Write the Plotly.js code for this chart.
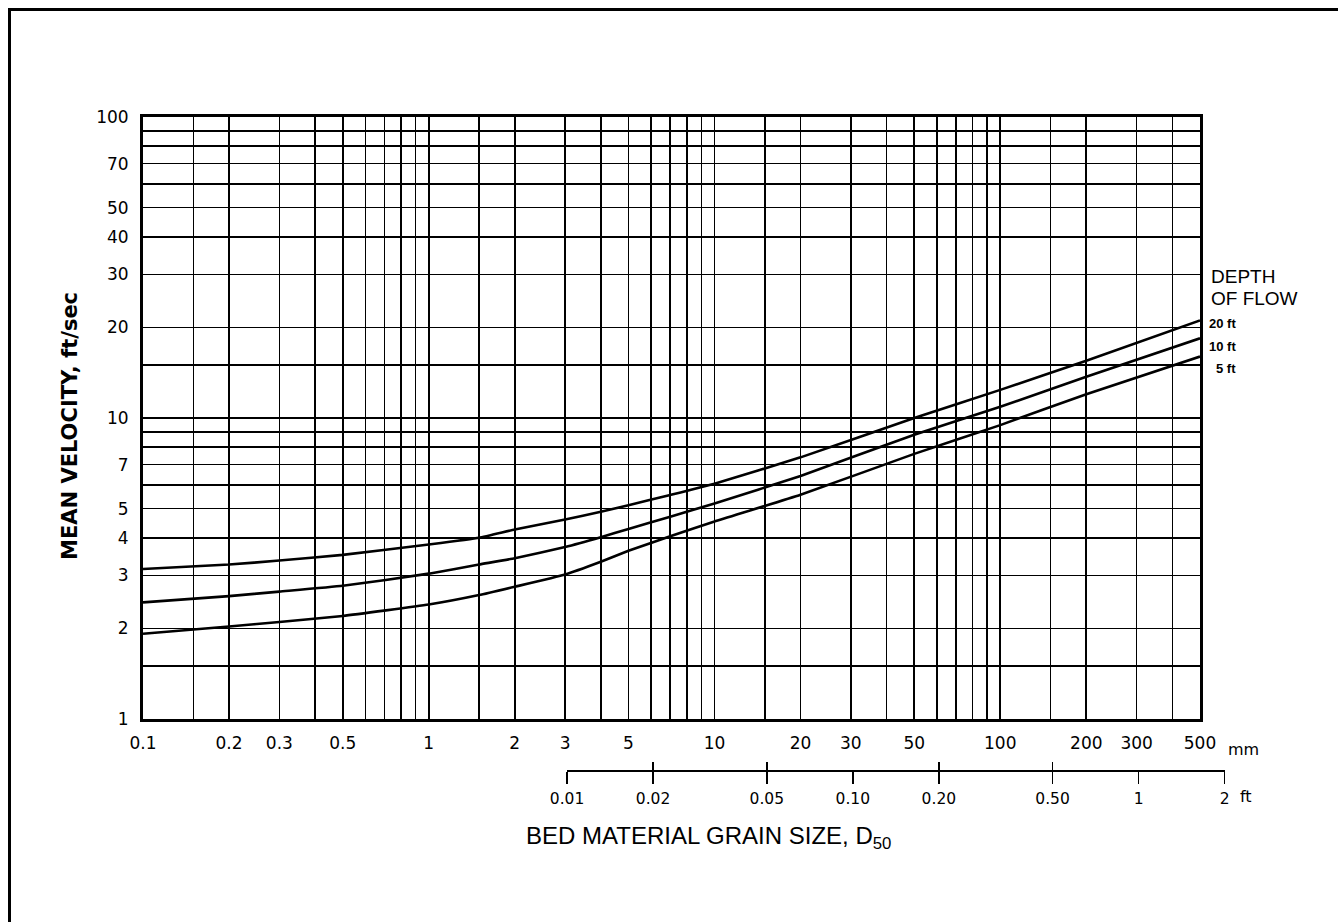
<!DOCTYPE html>
<html>
<head>
<meta charset="utf-8">
<script src="https://cdn.plot.ly/plotly-3.0.1.min.js"></script>
<style>
  html, body { margin: 0; padding: 0; background: #ffffff; }
  #chart { width: 1338px; height: 922px; }
</style>
</head>
<body>
<div id="chart"></div>
<script>
// Median bed material grain size D50 (mm) at which each velocity curve is tabulated
const grainSizeMm = [0.1, 0.2, 0.3, 0.5, 1, 1.5, 2, 3, 4, 5, 7, 10, 20, 50, 100, 200, 500];

// Mean velocity (ft/sec) for each depth of flow
const velocity20ft = [3.15, 3.26, 3.36, 3.51, 3.80, 4.00, 4.26, 4.60, 4.88, 5.13, 5.55, 6.05, 7.40, 10.0, 12.4, 15.5, 21.1];
const velocity10ft = [2.44, 2.56, 2.65, 2.77, 3.04, 3.26, 3.42, 3.73, 4.02, 4.28, 4.70, 5.20, 6.42, 8.80, 10.9, 13.7, 18.4];
const velocity5ft  = [1.92, 2.03, 2.10, 2.20, 2.40, 2.58, 2.75, 3.02, 3.33, 3.62, 4.05, 4.53, 5.56, 7.60, 9.47, 12.0, 16.0];

const depthNames = ['20 ft', '10 ft', '5 ft'];

// Labelled ticks
const mmTickLabels = [0.1, 0.2, 0.3, 0.5, 1, 2, 3, 5, 10, 20, 30, 50, 100, 200, 300, 500];
const velTickLabels = [1, 2, 3, 4, 5, 7, 10, 20, 30, 40, 50, 70, 100];
const ftTickValues = [0.01, 0.02, 0.05, 0.1, 0.2, 0.5, 1, 2];
const ftTickText = ['0.01', '0.02', '0.05', '0.10', '0.20', '0.50', '1', '2'];
const ftCrossTicks = [0.01, 0.02, 0.05, 0.2, 0.5];

// Log-paper rulings within each decade
const gridMantissas = [1, 1.5, 2, 3, 4, 5, 6, 7, 8, 9];
const MM_PER_FT = 304.8;

// ---------- helpers ----------
function logGrid(lo, hi) {
  const vals = [];
  for (let e = Math.floor(Math.log10(lo)); e <= Math.ceil(Math.log10(hi)); e++) {
    gridMantissas.forEach(m => {
      const v = +(m * Math.pow(10, e)).toPrecision(6);
      if (v >= lo * 0.999 && v <= hi * 1.001) vals.push(v);
    });
  }
  return vals;
}
const near = (a, b) => Math.abs(a - b) < 1e-9 * Math.max(1, b);
const mmMinor = logGrid(0.1, 500).filter(v => !mmTickLabels.some(t => near(t, v)));
const velMinor = logGrid(1, 100).filter(v => !velTickLabels.some(t => near(t, v)));

// ---------- page geometry ----------
const W = 1338, H = 922;
const M = { l: 143, r: 113, t: 117, b: 142 };
const PW = W - M.l - M.r, PH = H - M.t - M.b;
const fx = px => (px - M.l) / PW;
const fy = py => (H - M.b - py) / PH;

const xRange = [Math.log10(0.1), Math.log10(500)];
const xDomEnd = fx(1200);
const mmToFrac = mm => xDomEnd * (Math.log10(mm) - xRange[0]) / (xRange[1] - xRange[0]);
const ftDomain = [mmToFrac(ftTickValues[0] * MM_PER_FT), Math.min(1, mmToFrac(ftTickValues[ftTickValues.length - 1] * MM_PER_FT))];
const ftAxisY = fy(770);

const TICK_FONT = { family: 'DejaVu Sans, sans-serif', size: 17, color: '#000' };
const black = '#000000';
const GRID_W = 1.6;

// ---------- traces ----------
const series = [velocity20ft, velocity10ft, velocity5ft];
const traces = series.map((vals, i) => ({
  type: 'scatter', mode: 'lines', name: depthNames[i],
  x: grainSizeMm, y: vals, xaxis: 'x', yaxis: 'y',
  line: { color: black, width: 2.6, shape: 'spline', smoothing: 0.4 },
  hoverinfo: 'x+y+name', showlegend: false
}));
// carriers for the foot scale under the mm scale
traces.push({
  type: 'scatter', mode: 'markers', x: ftTickValues, y: ftTickValues.map(() => 0.5),
  xaxis: 'x2', yaxis: 'y2', marker: { opacity: 0 }, hoverinfo: 'skip', showlegend: false
});
traces.push({
  type: 'scatter', mode: 'markers', x: ftCrossTicks, y: ftCrossTicks.map(() => 0.5),
  xaxis: 'x3', yaxis: 'y2', marker: { opacity: 0 }, hoverinfo: 'skip', showlegend: false
});

// ---------- annotations ----------
const ann = [];
ann.push({ xref: 'paper', yref: 'paper', x: fx(70), y: fy(426), text: 'MEAN VELOCITY, ft/sec',
  textangle: -90, showarrow: false, xanchor: 'center', yanchor: 'middle',
  font: { family: 'DejaVu Sans, sans-serif', size: 21, color: black, weight: 'bold' } });
ann.push({ xref: 'paper', yref: 'paper', x: fx(708), y: fy(838), text: 'BED MATERIAL GRAIN SIZE, D<sub>50</sub>',
  showarrow: false, xanchor: 'center', yanchor: 'middle',
  font: { family: 'Liberation Sans, Arial, sans-serif', size: 24, color: black } });
ann.push({ xref: 'paper', yref: 'paper', x: fx(1226), y: fy(749), text: 'mm', showarrow: false,
  xanchor: 'left', yanchor: 'middle', font: { family: 'DejaVu Sans, sans-serif', size: 16, color: black } });
ann.push({ xref: 'paper', yref: 'paper', x: fx(1238), y: fy(797), text: 'ft', showarrow: false,
  xanchor: 'left', yanchor: 'middle', font: { family: 'DejaVu Sans, sans-serif', size: 16, color: black } });
ann.push({ xref: 'paper', yref: 'paper', x: fx(1209), y: fy(276), text: 'DEPTH', showarrow: false,
  xanchor: 'left', yanchor: 'middle', font: { family: 'Liberation Sans, Arial, sans-serif', size: 19, color: black } });
ann.push({ xref: 'paper', yref: 'paper', x: fx(1209), y: fy(298), text: 'OF FLOW', showarrow: false,
  xanchor: 'left', yanchor: 'middle', font: { family: 'Liberation Sans, Arial, sans-serif', size: 19, color: black } });
const depthLabelY = [323, 346, 368];
depthNames.forEach((name, i) => {
  ann.push({ xref: 'paper', yref: 'paper', x: fx(1238), y: fy(depthLabelY[i]), text: name, showarrow: false,
    xanchor: 'right', yanchor: 'middle',
    font: { family: 'Liberation Sans, Arial, sans-serif', size: 13, color: black, weight: 'bold' } });
});

// ---------- page frame (top and left rules) ----------
const shapes = [
  { type: 'line', xref: 'paper', yref: 'paper', x0: fx(9.5), x1: fx(9.5), y0: fy(8), y1: fy(930),
    line: { color: black, width: 3 } },
  { type: 'line', xref: 'paper', yref: 'paper', x0: fx(8), x1: fx(1345), y0: fy(9.5), y1: fy(9.5),
    line: { color: black, width: 3 } }
];

const layout = {
  width: W, height: H,
  margin: M,
  paper_bgcolor: '#ffffff', plot_bgcolor: '#ffffff',
  showlegend: false,
  xaxis: {
    type: 'log', range: xRange, domain: [0, xDomEnd], anchor: 'y',
    tickmode: 'array', tickvals: mmTickLabels, ticktext: mmTickLabels.map(String),
    ticks: '', ticklabelstandoff: 7, tickfont: TICK_FONT,
    showgrid: true, gridcolor: black, gridwidth: GRID_W,
    minor: { tickmode: 'array', tickvals: mmMinor, ticks: '', showgrid: true, gridcolor: black, gridwidth: GRID_W },
    showline: true, linecolor: black, linewidth: 3, mirror: true,
    zeroline: false, automargin: false, fixedrange: true
  },
  yaxis: {
    type: 'log', range: [0, 2], domain: [fy(719), 1], anchor: 'x',
    tickmode: 'array', tickvals: velTickLabels, ticktext: velTickLabels.map(String),
    ticks: '', ticklabelstandoff: 8, tickfont: TICK_FONT,
    showgrid: true, gridcolor: black, gridwidth: GRID_W,
    minor: { tickmode: 'array', tickvals: velMinor, ticks: '', showgrid: true, gridcolor: black, gridwidth: GRID_W },
    showline: true, linecolor: black, linewidth: 3, mirror: true,
    zeroline: false, automargin: false, fixedrange: true
  },
  xaxis2: {
    type: 'log', range: [Math.log10(ftTickValues[0]), Math.log10(ftTickValues[ftTickValues.length - 1])],
    domain: ftDomain, anchor: 'y2', side: 'bottom',
    tickmode: 'array', tickvals: ftTickValues, ticktext: ftTickText,
    ticks: 'outside', ticklen: 12, tickwidth: 1.5, tickcolor: black,
    ticklabelstandoff: 1,
    tickfont: { family: 'DejaVu Sans, sans-serif', size: 15.5, color: black },
    showgrid: false, showline: true, linecolor: black, linewidth: 2,
    zeroline: false, automargin: false, fixedrange: true
  },
  xaxis3: {
    type: 'log', range: [Math.log10(ftTickValues[0]), Math.log10(ftTickValues[ftTickValues.length - 1])],
    overlaying: 'x2', anchor: 'y2', side: 'bottom',
    tickmode: 'array', tickvals: ftCrossTicks,
    ticks: 'inside', ticklen: 8, tickwidth: 1.5, tickcolor: black,
    showticklabels: false, showgrid: false, showline: false,
    zeroline: false, automargin: false, fixedrange: true
  },
  yaxis2: {
    domain: [ftAxisY, ftAxisY + 0.02], anchor: 'x2', range: [0, 1],
    visible: false, showgrid: false, zeroline: false, fixedrange: true
  },
  annotations: ann,
  shapes: shapes
};

Plotly.newPlot('chart', traces, layout, { displayModeBar: false, staticPlot: true });
</script>
</body>
</html>
